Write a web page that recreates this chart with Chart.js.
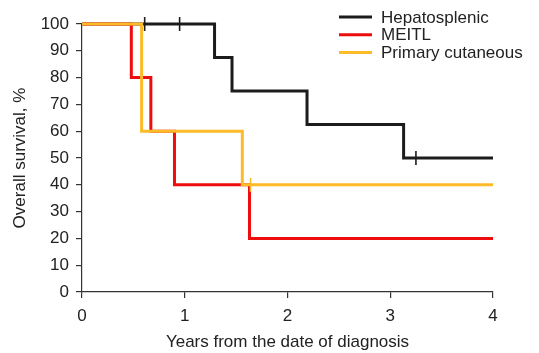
<!DOCTYPE html>
<html>
<head>
<meta charset="utf-8">
<script src="https://cdn.jsdelivr.net/npm/chart.js@4/dist/chart.umd.min.js"></script>
<style>
  html, body { margin: 0; padding: 0; background: #fff; }
  #wrap { width: 539px; height: 353px; }
</style>
</head>
<body>
<div id="wrap"><canvas id="km" width="539" height="353"></canvas></div>
<script>
    "use strict";

    // Kaplan-Meier steps: time of each event (years) and survival after it (%)
    var hepatoTimes = [0, 1.29, 1.46, 2.19, 3.13, 4];
    var hepatoSurv  = [100, 87.5, 75, 62.5, 50, 50];
    var meitlTimes  = [0, 0.48, 0.67, 0.90, 1.63, 4];
    var meitlSurv   = [100, 80, 60, 40, 20, 20];
    var cutanTimes  = [0, 0.58, 1.56, 4];
    var cutanSurv   = [100, 60, 40, 40];

    // censored observations
    var hepatoCensTimes = [0.61, 0.95, 3.25];
    var hepatoCensSurv  = [100, 100, 50];
    var cutanCensTimes  = [1.64];
    var cutanCensSurv   = [40];

    var seriesNames = ["Hepatosplenic", "MEITL", "Primary cutaneous"];
    var xTicks = [0, 1, 2, 3, 4];

    var colBlack = "#1c1c1c";
    var colRed = "#ee0d0d";
    var colYellow = "#fdbb2a";
    var font = "'Liberation Sans', Arial, sans-serif";

    function pts(xs, ys) {
        return xs.map(function (x, i) { return {x: x, y: ys[i]}; });
    }

    function stepSet(label, xs, ys, color, order) {
        return {
            label: label,
            data: pts(xs, ys),
            borderColor: color,
            backgroundColor: color,
            borderWidth: 3,
            stepped: "before",
            pointRadius: 0,
            fill: false,
            clip: false,
            order: order
        };
    }

    function censSet(xs, ys, color) {
        return {
            type: "scatter",
            label: "",
            data: pts(xs, ys),
            borderColor: color,
            backgroundColor: color,
            pointStyle: "line",
            rotation: 90,
            pointRadius: 7,
            pointBorderWidth: 1.6,
            showLine: false,
            clip: false,
            order: 0
        };
    }

    // Legend drawn at top right inside the plot
    var legendPlugin = {
        id: "kmLegend",
        afterDraw: function (chart) {
            var ctx = chart.ctx;
            var colors = [colBlack, colRed, colYellow];
            ctx.save();
            ctx.font = "17px " + font;
            ctx.textBaseline = "middle";
            for (var i = 0; i < seriesNames.length; i++) {
                var y = 17 + i * 17.8;
                ctx.strokeStyle = colors[i];
                ctx.lineWidth = 3;
                ctx.beginPath();
                ctx.moveTo(339, y);
                ctx.lineTo(372, y);
                ctx.stroke();
                ctx.fillStyle = "#222";
                ctx.fillText(seriesNames[i], 381, y + 1);
            }
            ctx.restore();
        }
    };

    var ctx = document.getElementById("km").getContext("2d");
    var kmChart = new Chart(ctx, {
        type: "line",
        data: {
            datasets: [
                stepSet(seriesNames[0], hepatoTimes, hepatoSurv, colBlack, 3),
                stepSet(seriesNames[1], meitlTimes, meitlSurv, colRed, 2),
                stepSet(seriesNames[2], cutanTimes, cutanSurv, colYellow, 1),
                censSet(hepatoCensTimes, hepatoCensSurv, colBlack),
                censSet(cutanCensTimes, cutanCensSurv, colYellow)
            ]
        },
        options: {
            responsive: false,
            animation: false,
            layout: { padding: { top: 24, right: 46, left: 0, bottom: 0 } },
            plugins: {
                legend: { display: false },
                tooltip: { enabled: false }
            },
            scales: {
                x: {
                    type: "linear",
                    min: 0,
                    max: 4,
                    afterBuildTicks: function (s) {
                        s.ticks = xTicks.map(function (v) { return {value: v}; });
                    },
                    afterFit: function (s) { s.height = 61; },
                    grid: { display: true, drawOnChartArea: false, drawTicks: true, tickLength: 6, color: "#333", lineWidth: 1.2 },
                    border: { display: true, color: "#333", width: 1.2 },
                    ticks: { color: "#222", font: { family: font, size: 17 }, padding: 8, maxRotation: 0 },
                    title: {
                        display: true,
                        text: "Years from the date of diagnosis",
                        color: "#222",
                        font: { family: font, size: 17 },
                        padding: { top: 2, bottom: 0 }
                    }
                },
                y: {
                    min: 0,
                    max: 100,
                    afterFit: function (s) { s.width = 82; },
                    grid: { display: true, drawOnChartArea: false, drawTicks: true, tickLength: 6, color: "#333", lineWidth: 1.2 },
                    border: { display: true, color: "#333", width: 1.2 },
                    ticks: { stepSize: 10, color: "#222", font: { family: font, size: 17 }, padding: 7 },
                    title: {
                        display: true,
                        text: "Overall survival, %",
                        color: "#222",
                        font: { family: font, size: 17 },
                        padding: { top: 10, bottom: 0 }
                    }
                }
            }
        },
        plugins: [legendPlugin]
    });
</script>
</body>
</html>
